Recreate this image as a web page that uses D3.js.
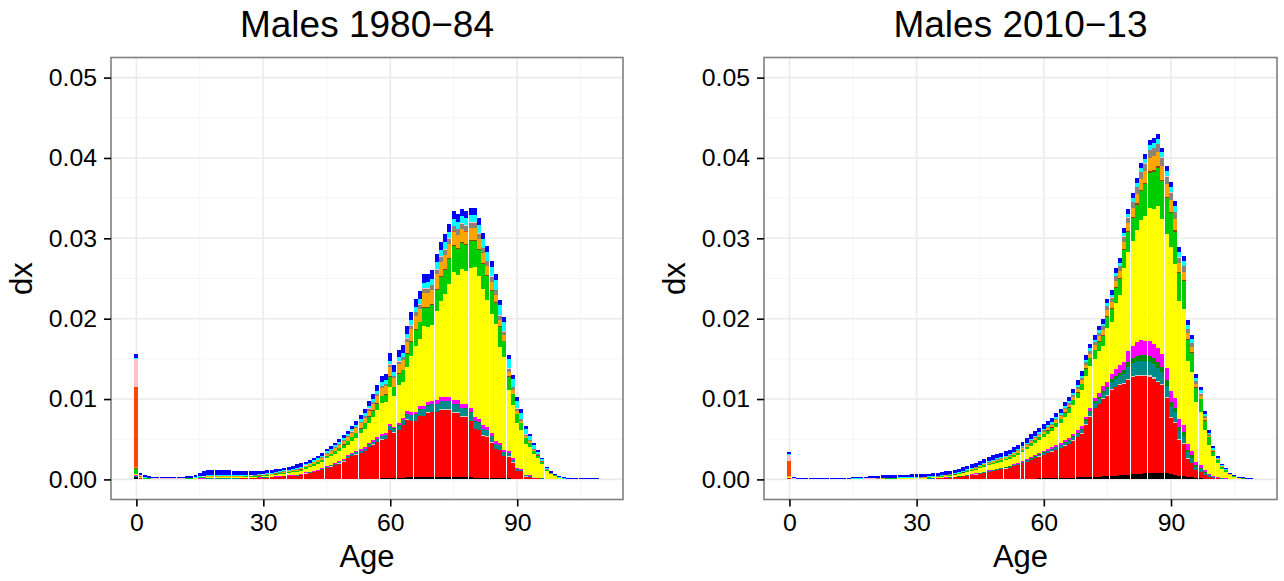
<!DOCTYPE html>
<html>
<head>
<meta charset="utf-8">
<script src="https://cdnjs.cloudflare.com/ajax/libs/d3/7.8.5/d3.min.js"></script>
<style>
body { margin: 0; background: #fff; }
svg text { font-family: "Liberation Sans", Arial, sans-serif; fill: #000; }
</style>
</head>
<body>
<div id="chart"></div>
<script>
//age-at-death distribution by cause, stacked
//all series values are dx in units of 1e-5

var ages = d3.range(0, 110);
var causes = ["black", "red", "lightgrey", "teal", "darkgreen", "magenta", "yellow", "green",
              "brown", "orange", "orangered", "grey", "pink", "cyan", "blue"];
var causeColors = ["#000000", "#FF0000", "#CCCCCC", "#008B8B", "#008B00", "#FF00FF", "#FFFF00", "#00CD00",
                   "#8B4513", "#FFA500", "#FF4500", "#8B8378", "#FFC0CB", "#00FFFF", "#0000FF"];
var xTicks = [0, 30, 60, 90];
var yTicks = [0, 0.01, 0.02, 0.03, 0.04, 0.05];
var titles = ["Males 1980\u221284", "Males 2010\u221213"];

// ---- Males 1980-84 ----
var black1 = [30,5,0,0,0,0,0,0,0,0, 0,0,0,0,0,0,0,0,0,0, 0,0,0,0,0,0,0,0,0,0, 1,1,1,1,2,2,2,2,3,3,
   3,3,4,4,4,5,5,5,6,6, 8,8,9,9,10,10,10,10,12,12, 20,20,22,22,24,24,25,25,25,25, 25,25,25,25,25,25,25,25,25,25,
   22,22,20,20,18,15,15,12,12,10, 8,6,5,4,3,2,1,1,0,0, 0,0,0,0,0,0,0,0,0,0];
var red1 = [5,8,5,4,4,4,4,4,4,4, 4,4,5,5,6,8,9,10,10,10, 10,10,10,11,11,12,12,13,14,15, 20,22,25,28,30,35,38,40,42,50,
   70,75,85,95,110,140,155,170,190,215, 260,280,300,320,340,390,420,450,480,490, 590,560,590,650,720,700,700,760,760,800,
   810,810,840,840,840,800,800,750,750,700, 600,590,520,510,440,360,350,275,270,200, 95,95,30,30,20,12,8,5,3,2,
   1,1,0,0,0,0,0,0,0,0];
var lightgrey1 = [0,0,0,0,0,0,0,0,0,0, 0,0,0,0,0,0,0,0,0,0, 0,0,0,0,0,0,0,0,0,0, 0,0,0,0,0,0,0,0,0,0,
   1,1,1,1,2,2,2,2,3,3, 3,3,4,4,4,5,5,5,6,6, 8,8,8,8,8,8,8,8,8,8, 8,8,8,8,8,8,8,8,8,8,
   8,8,7,7,6,6,5,5,4,4, 3,3,2,2,1,1,1,0,0,0, 0,0,0,0,0,0,0,0,0,0];
var teal1 = [5,1,0,0,0,0,0,0,0,0, 0,0,0,0,1,1,1,2,2,2, 2,2,2,2,2,2,3,3,3,3, 3,3,3,4,4,4,5,5,5,6,
   6,7,8,9,10,11,12,13,14,16, 18,20,22,24,26,28,30,33,36,40, 45,42,50,55,60,65,70,75,80,85, 90,95,100,100,100,100,100,100,95,95,
   90,85,80,75,70,60,55,45,40,30, 20,15,12,8,6,4,3,2,1,1, 0,0,0,0,0,0,0,0,0,0];
var darkgreen1 = [0,0,0,0,0,0,0,0,0,0, 0,0,0,0,0,0,0,0,0,0, 0,0,0,0,0,0,0,0,0,0, 0,0,0,0,0,0,0,0,0,0,
   0,0,0,0,0,0,0,0,0,0, 1,1,1,1,2,2,2,2,2,3, 4,4,5,5,5,5,6,6,6,6, 6,6,7,7,7,7,7,7,7,7,
   7,6,6,6,5,5,5,4,4,3, 3,2,2,1,1,1,0,0,0,0, 0,0,0,0,0,0,0,0,0,0];
var magenta1 = [15,4,2,2,1,1,1,1,1,1, 1,1,2,2,3,5,6,7,8,8, 8,8,7,7,7,6,6,6,6,6, 6,6,6,6,7,7,7,7,8,8,
   8,8,9,9,10,10,11,12,13,14, 15,16,17,18,19,20,21,22,23,24, 25,24,27,28,30,32,34,36,38,40, 42,44,46,48,50,50,50,50,48,48,
   45,42,40,38,35,32,28,24,20,16, 14,10,8,6,5,3,2,1,1,0, 0,0,0,0,0,0,0,0,0,0];
var yellow1 = [10,6,3,3,2,2,2,2,2,2, 2,2,3,3,4,6,7,8,9,9, 9,9,9,9,9,9,9,10,10,11, 13,14,16,18,21,25,28,32,36,40,
   45,55,63,73,82,98,104,118,125,136, 125,148,168,197,230,252,286,336,388,385, 463,380,478,450,557,700,822,834,988,932,
   939,1102,1200,1281,1403,1596,1552,1676,1658,1753, 1868,1776,1697,1574,1486,1450,1188,1155,757,658,
   562,483,381,351,275,244,180,94,58,42, 15,8,5,5,0,0,0,0,0,0];
var green1 = [70,6,3,3,2,2,2,2,2,2, 2,2,2,3,3,5,6,7,7,7, 7,7,7,7,7,7,7,7,7,8, 8,8,9,9,10,11,12,13,14,15,
   16,18,20,22,24,26,30,34,38,42, 46,50,55,60,66,72,78,84,90,95, 120,110,130,140,160,180,200,210,230,240,
   250,270,290,300,310,320,330,330,330,330, 330,320,310,300,290,270,250,200,170,140, 110,85,75,55,45,30,20,12,7,4,
   3,0,0,0,0,0,0,0,0,0];
var brown1 = [5,1,0,0,0,0,0,0,0,0, 0,0,0,0,0,0,0,0,0,0, 0,0,0,0,0,0,0,0,0,0, 0,0,0,0,1,1,1,1,1,2,
   2,2,2,2,3,3,3,3,4,4, 4,5,5,5,6,6,6,7,7,7, 8,8,8,9,9,10,10,10,11,11, 11,12,12,12,12,13,13,13,13,13,
   13,12,12,11,11,10,9,8,7,6, 5,4,3,2,2,1,1,1,0,0, 0,0,0,0,0,0,0,0,0,0];
var orange1 = [15,3,2,1,1,1,1,1,1,1, 1,1,1,2,2,3,4,5,5,5, 5,5,5,5,5,5,5,5,5,5, 6,6,7,7,8,9,10,11,13,14,
   15,17,19,21,23,25,28,32,36,40, 45,50,55,60,66,72,78,84,90,95, 110,100,115,120,135,145,155,160,170,170,
   175,180,180,175,170,165,160,155,150,145, 140,130,120,110,100,90,80,65,55,45, 35,28,22,16,12,9,6,4,2,1,
   0,0,0,0,0,0,0,0,0,0];
var orangered1 = [1000,10,3,2,1,1,1,1,1,1, 1,1,1,1,1,1,1,1,1,1, 1,1,1,1,1,1,1,1,1,1, 1,1,1,1,1,1,1,1,1,1,
   1,1,1,1,1,1,1,1,1,1, 1,1,1,1,1,1,1,1,1,1, 1,1,1,1,1,1,1,1,1,1, 1,1,1,1,1,1,1,1,1,1,
   1,1,1,1,1,1,1,1,1,1, 1,1,1,1,1,1,1,1,1,1, 0,0,0,0,0,0,0,0,0,0];
var grey1 = [0,0,0,0,0,0,0,0,0,0, 0,0,0,0,1,1,2,2,2,2, 2,2,2,2,2,2,2,2,3,3, 3,3,3,3,4,4,4,5,5,5,
   6,6,7,7,8,8,9,10,11,12, 13,14,15,16,18,20,22,24,26,28, 30,28,32,34,38,42,46,48,52,54, 56,58,60,62,64,65,66,66,66,66,
   66,65,64,62,60,56,52,45,40,32, 25,20,16,12,9,6,4,3,2,1, 0,0,0,0,0,0,0,0,0,0];
var pink1 = [340,8,4,3,2,2,2,2,2,2, 2,2,2,2,2,2,2,2,2,2, 2,2,2,2,2,2,2,2,2,2, 2,2,2,2,2,2,2,2,2,2,
   2,2,2,2,3,3,3,3,3,3, 3,3,4,4,4,5,5,5,6,6, 6,6,7,7,8,8,8,9,9,9, 9,9,9,9,9,9,9,9,9,9,
   9,9,8,8,8,7,7,6,5,5, 4,3,3,2,2,1,1,1,0,0, 0,0,0,0,0,0,0,0,0,0];
var cyan1 = [15,5,5,4,4,4,3,3,3,3, 3,4,4,5,6,8,10,11,12,12, 12,12,11,11,11,10,10,10,10,10, 10,10,10,11,11,12,12,13,13,14,
   14,15,15,16,16,17,18,19,20,22, 23,25,27,29,31,33,35,37,39,41, 45,42,48,50,55,60,65,68,72,75, 78,80,82,84,85,86,86,88,90,92,
   95,100,105,110,115,118,120,115,110,100, 90,75,65,50,40,30,20,15,10,6, 5,3,2,2,0,0,0,0,0,0];
var blue1 = [45,28,23,18,18,18,16,14,14,14, 16,18,20,25,31,40,52,57,62,60, 60,58,56,53,51,49,45,41,39,38, 35,36,35,35,34,35,38,40,45,40,
   33,33,33,33,34,35,36,37,38,40, 42,44,46,50,55,60,65,70,75,80, 95,85,95,95,100,100,100,100,100,100, 100,100,100,98,96,95,93,92,90,88,
   86,84,80,78,75,70,65,60,55,50, 45,40,35,30,28,25,22,20,15,12, 17,15,15,15,15,15,15,15,15,15];

// ---- Males 2010-13 ----
var black2 = [10,1,0,0,0,0,0,0,0,0, 0,0,0,0,0,0,0,0,0,0, 0,0,0,0,0,0,0,0,0,0, 0,0,0,1,1,1,1,1,1,2,
   2,2,2,3,3,3,3,4,4,4, 5,5,6,6,7,8,9,10,11,12, 13,14,15,16,18,19,20,22,24,26, 28,30,35,35,40,40,45,45,50,55,
   60,65,70,70,75,80,85,85,80,75, 65,55,45,40,30,25,15,12,8,5, 3,2,1,1,0,0,0,0,0,0];
var red2 = [2,2,1,1,1,1,1,1,1,1, 1,1,1,1,1,2,2,2,3,3, 3,3,4,4,4,4,5,5,5,6, 6,7,8,9,10,12,15,18,22,26,
   30,35,42,50,58,68,80,90,100,110, 120,130,140,155,170,190,210,230,250,270, 290,310,330,350,370,400,420,460,500,540,
   650,750,850,900,960,1000,1070,1100,1120,1130, 1180,1210,1220,1220,1210,1200,1170,1130,1090,940,
   700,650,450,400,230,180,100,80,50,30, 18,12,8,5,3,2,1,1,0,0];
var lightgrey2 = [0,0,0,0,0,0,0,0,0,0, 0,0,0,0,0,0,0,0,0,0, 0,0,0,0,0,0,0,0,0,0, 0,0,0,0,0,0,0,0,0,0,
   0,0,1,1,1,1,1,1,2,2, 2,2,2,2,3,3,3,3,4,4, 4,4,5,5,5,6,6,6,7,7, 8,8,9,9,10,10,11,11,12,12,
   13,13,14,14,14,14,14,13,13,12, 11,10,8,8,5,5,3,3,2,1, 0,0,0,0,0,0,0,0,0,0];
var teal2 = [0,0,0,0,0,0,0,0,0,0, 0,0,0,0,0,0,0,0,0,0, 0,0,0,1,1,1,1,1,1,1, 1,1,1,2,2,2,2,3,3,3,
   4,4,5,5,6,6,7,8,8,9, 10,10,11,12,13,14,15,17,18,20, 22,24,26,28,30,32,34,37,40,43, 46,50,55,60,65,70,80,90,100,110,
   150,160,165,170,170,170,165,160,150,140, 130,120,100,95,70,60,40,35,25,15, 10,6,4,3,2,1,1,0,0,0];
var darkgreen2 = [0,0,0,0,0,0,0,0,0,0, 0,0,0,0,0,0,0,0,0,0, 0,0,0,0,0,0,0,0,0,0, 0,0,0,0,0,0,0,0,0,0,
   1,1,1,1,1,2,2,2,2,2, 3,3,3,4,4,4,5,5,5,6, 6,7,7,8,8,9,9,10,11,12, 15,18,22,26,30,34,38,42,48,54,
   60,65,70,75,75,75,75,72,70,65, 60,55,48,45,35,30,20,17,12,8, 5,3,2,1,1,0,0,0,0,0];
var magenta2 = [10,1,0,0,0,0,0,0,0,0, 0,0,0,0,1,1,1,1,1,1, 1,1,1,1,1,1,1,1,2,2, 2,2,2,2,2,2,3,3,3,3,
   3,4,4,4,5,5,5,6,6,6, 7,7,8,8,9,10,11,12,13,14, 15,16,17,18,19,21,23,25,28,31, 34,38,42,48,55,62,70,80,90,100,
   130,150,170,180,180,180,175,170,160,150, 140,125,100,95,65,55,35,30,20,12, 8,5,3,2,1,1,0,0,0,0];
var yellow2 = [3,1,1,1,1,1,1,1,1,1, 1,1,1,1,1,2,2,2,3,3, 3,4,4,4,5,5,5,6,6,6, 7,8,8,9,10,11,13,15,17,19,
   25,29,35,42,46,55,61,65,69,75, 71,80,83,93,98,112,122,141,152,160, 175,188,200,230,250,290,320,360,400,450,
   510,520,490,520,500,669,649,832,877,1164, 1234,1306,1391,1498,1550,1660,1676,1768,1680,1674,
   1784,1669,1467,1443,1037,980,745,658,494,363, 243,170,107,79,42,25,13,10,4,5];
var green2 = [10,1,1,0,0,0,0,0,0,0, 0,0,1,1,1,1,1,2,2,2, 2,2,2,2,3,3,3,3,3,3, 3,3,4,4,4,5,5,6,7,8,
   9,10,11,12,13,14,15,16,17,18, 19,20,22,24,26,28,30,33,36,38, 40,42,45,48,50,55,58,64,70,76,
   85,95,105,115,125,140,160,180,200,230, 250,280,320,360,400,440,470,480,470,440,
   420,400,350,340,260,240,180,160,120,90, 60,45,30,22,12,8,4,2,1,0];
var brown2 = [0,0,0,0,0,0,0,0,0,0, 0,0,0,0,0,0,0,0,0,0, 0,0,0,0,0,0,0,0,0,0, 0,0,0,0,0,0,0,1,1,1,
   1,1,1,1,1,2,2,2,2,2, 2,2,2,2,3,3,3,3,3,4, 4,4,4,5,5,5,5,6,6,6, 7,7,8,8,9,9,10,10,11,12,
   12,13,14,15,16,17,18,18,18,17, 16,15,12,12,9,8,6,5,4,3, 2,1,1,1,0,0,0,0,0,0];
var orange2 = [3,1,0,0,0,0,0,0,0,0, 0,0,0,0,0,1,1,1,1,1, 1,1,1,1,1,1,2,2,2,2, 2,2,2,3,3,3,4,4,5,5,
   6,7,8,9,10,11,12,13,14,15, 15,16,16,17,18,19,20,22,24,25, 26,27,28,30,31,33,35,37,40,43, 46,50,55,60,65,70,75,80,85,90,
   100,110,120,135,150,165,175,175,170,160, 150,140,110,105,75,65,45,40,28,18, 12,8,5,4,2,1,1,0,0,0];
var orangered2 = [190,3,1,1,0,0,0,0,0,0, 0,0,0,0,0,0,0,0,0,0, 0,0,0,0,0,0,0,0,0,0, 0,0,0,0,0,0,0,0,0,0,
   0,0,0,0,0,0,0,0,0,0, 0,0,0,0,0,0,0,0,0,0, 0,0,0,0,0,0,0,0,0,0, 0,0,0,0,0,0,0,0,0,0,
   0,0,0,0,0,0,0,0,0,0, 0,0,0,0,0,0,0,0,0,0, 0,0,0,0,0,0,0,0,0,0];
var grey2 = [0,0,0,0,0,0,0,0,0,0, 0,0,0,0,0,0,1,1,1,1, 1,1,1,1,1,1,1,1,1,1, 1,1,1,1,2,2,2,2,3,3,
   3,4,4,4,5,5,6,6,7,7, 7,7,8,8,9,9,10,11,12,13, 14,15,16,17,18,20,21,23,25,27, 30,33,36,40,44,48,52,56,60,65,
   70,75,80,85,90,95,100,100,98,95, 90,85,70,68,50,45,32,28,20,14, 10,7,5,3,2,1,1,0,0,0];
var pink2 = [80,2,1,1,1,1,1,1,1,1, 1,1,1,1,1,1,1,1,1,1, 1,1,1,1,1,1,1,1,1,1, 1,1,1,1,1,1,1,1,1,1,
   1,1,1,1,1,1,1,1,1,1, 1,1,1,1,1,1,2,2,2,2, 2,2,2,2,2,2,2,2,2,2, 3,3,3,3,4,4,4,4,5,5,
   5,5,6,6,6,7,7,7,7,6, 6,6,5,5,4,3,2,2,2,1, 1,1,1,0,0,0,0,0,0,0];
var cyan2 = [5,3,4,4,4,4,4,4,4,4, 4,4,4,4,4,4,4,5,5,6, 6,6,6,6,6,6,6,6,6,6, 6,6,6,6,6,7,7,7,7,8,
   8,8,9,9,10,10,11,11,12,12, 12,12,13,13,14,14,15,16,16,17, 18,18,19,20,20,21,22,23,24,25, 26,27,28,30,32,34,36,38,40,42,
   44,46,48,50,52,55,58,60,62,64, 66,68,65,64,55,52,42,38,30,22, 16,12,9,7,5,3,2,1,0,0];
var blue2 = [27,16,13,12,12,12,12,12,12,12, 12,12,12,12,12,13,14,16,18,22, 27,29,30,31,32,32,33,34,33,34, 33,34,35,32,34,34,37,39,39,41,
   42,44,46,48,50,52,54,55,56,57, 56,55,55,55,55,55,55,55,55,55, 55,55,55,55,55,55,55,56,56,56, 57,58,58,58,60,60,60,62,62,62,
   62,62,62,62,62,62,62,62,62,62, 62,62,60,60,55,52,45,42,35,28, 22,18,14,12,12,12,12,12,12,12];

var series1980 = [black1, red1, lightgrey1, teal1, darkgreen1, magenta1, yellow1, green1,
                  brown1, orange1, orangered1, grey1, pink1, cyan1, blue1];
var series2010 = [black2, red2, lightgrey2, teal2, darkgreen2, magenta2, yellow2, green2,
                  brown2, orange2, orangered2, grey2, pink2, cyan2, blue2];

function main() {
   var svg = d3.select("#chart").append("svg")
      .attr("width", 1284)
      .attr("height", 581);

   drawPanel(svg, 111, 623, titles[0], series1980);
   drawPanel(svg, 764, 1277, titles[1], series2010);
}

function drawPanel(svg, left, right, title, series) {
   var top = 57.5, bottom = 499.5;

   var x = d3.scaleLinear()
      .domain([-6, 115])
      .range([left, right]);

   var y = d3.scaleLinear()
      .domain([-0.0025, 0.0525])
      .range([bottom, top]);

   var g = svg.append("g");

   //minor grid
   g.selectAll(".xminor")
      .data([15, 45, 75, 105])
      .enter().append("line")
         .attr("x1", function(d) { return x(d); })
         .attr("x2", function(d) { return x(d); })
         .attr("y1", top).attr("y2", bottom)
         .attr("stroke", "#F5F5F5").attr("stroke-width", 1);
   g.selectAll(".yminor")
      .data([0.005, 0.015, 0.025, 0.035, 0.045])
      .enter().append("line")
         .attr("x1", left).attr("x2", right)
         .attr("y1", function(d) { return y(d); })
         .attr("y2", function(d) { return y(d); })
         .attr("stroke", "#F5F5F5").attr("stroke-width", 1);

   //major grid
   g.selectAll(".xmajor")
      .data(xTicks)
      .enter().append("line")
         .attr("x1", function(d) { return x(d); })
         .attr("x2", function(d) { return x(d); })
         .attr("y1", top).attr("y2", bottom)
         .attr("stroke", "#EBEBEB").attr("stroke-width", 1.6);
   g.selectAll(".ymajor")
      .data(yTicks)
      .enter().append("line")
         .attr("x1", left).attr("x2", right)
         .attr("y1", function(d) { return y(d); })
         .attr("y2", function(d) { return y(d); })
         .attr("stroke", "#EBEBEB").attr("stroke-width", 1.6);

   //one row per age, one column per cause
   var rows = ages.map(function(a, i) {
      var row = {age: a};
      causes.forEach(function(c, j) { row[c] = series[j][i] * 1e-5; });
      return row;
   });
   var layers = d3.stack().keys(causes)(rows);

   g.selectAll(".layer")
      .data(layers)
      .enter().append("g")
         .attr("class", "layer")
         .attr("fill", function(d, i) { return causeColors[i]; })
      .selectAll("rect")
      .data(function(d) { return d.filter(function(s) { return s[1] > s[0]; }); })
      .enter().append("rect")
         .attr("shape-rendering", "crispEdges")
         .attr("x", function(d) { return Math.round(x(d.data.age - 0.5)); })
         .attr("width", function(d) {
            return Math.round(x(d.data.age + 0.5) - 0.25) - Math.round(x(d.data.age - 0.5));
         })
         .attr("y", function(d) { return Math.round(y(d[1])); })
         .attr("height", function(d) { return Math.round(y(d[0])) - Math.round(y(d[1])); });

   //panel border
   g.append("rect")
      .attr("x", left).attr("y", top)
      .attr("width", right - left).attr("height", bottom - top)
      .attr("fill", "none")
      .attr("stroke", "#7F7F7F")
      .attr("stroke-width", 1.6);

   var xAxis = d3.axisBottom(x)
      .tickValues(xTicks)
      .tickSize(7)
      .tickPadding(7);

   var yAxis = d3.axisLeft(y)
      .tickValues(yTicks)
      .tickFormat(d3.format(".2f"))
      .tickSize(7)
      .tickPadding(7);

   var xg = g.append("g")
      .attr("transform", "translate(0," + bottom + ")")
      .call(xAxis);
   var yg = g.append("g")
      .attr("transform", "translate(" + left + ",0)")
      .call(yAxis);

   [xg, yg].forEach(function(ax) {
      ax.select(".domain").remove();
      ax.selectAll("line").attr("stroke", "#000").attr("stroke-width", 1.6);
      ax.selectAll("text")
         .attr("fill", "#000")
         .style("font-size", "24.8px")
         .style("font-family", "'Liberation Sans', Arial, sans-serif");
   });

   //titles
   g.append("text")
      .attr("x", (left + right) / 2)
      .attr("y", 37)
      .attr("text-anchor", "middle")
      .style("font-size", "37px")
      .text(title);

   g.append("text")
      .attr("x", (left + right) / 2)
      .attr("y", 567)
      .attr("text-anchor", "middle")
      .style("font-size", "31px")
      .text("Age");

   g.append("text")
      .attr("transform", "translate(" + (left - 79) + "," + ((top + bottom) / 2) + ") rotate(-90)")
      .attr("text-anchor", "middle")
      .style("font-size", "31px")
      .text("dx");
}

main();
</script>
</body>
</html>
